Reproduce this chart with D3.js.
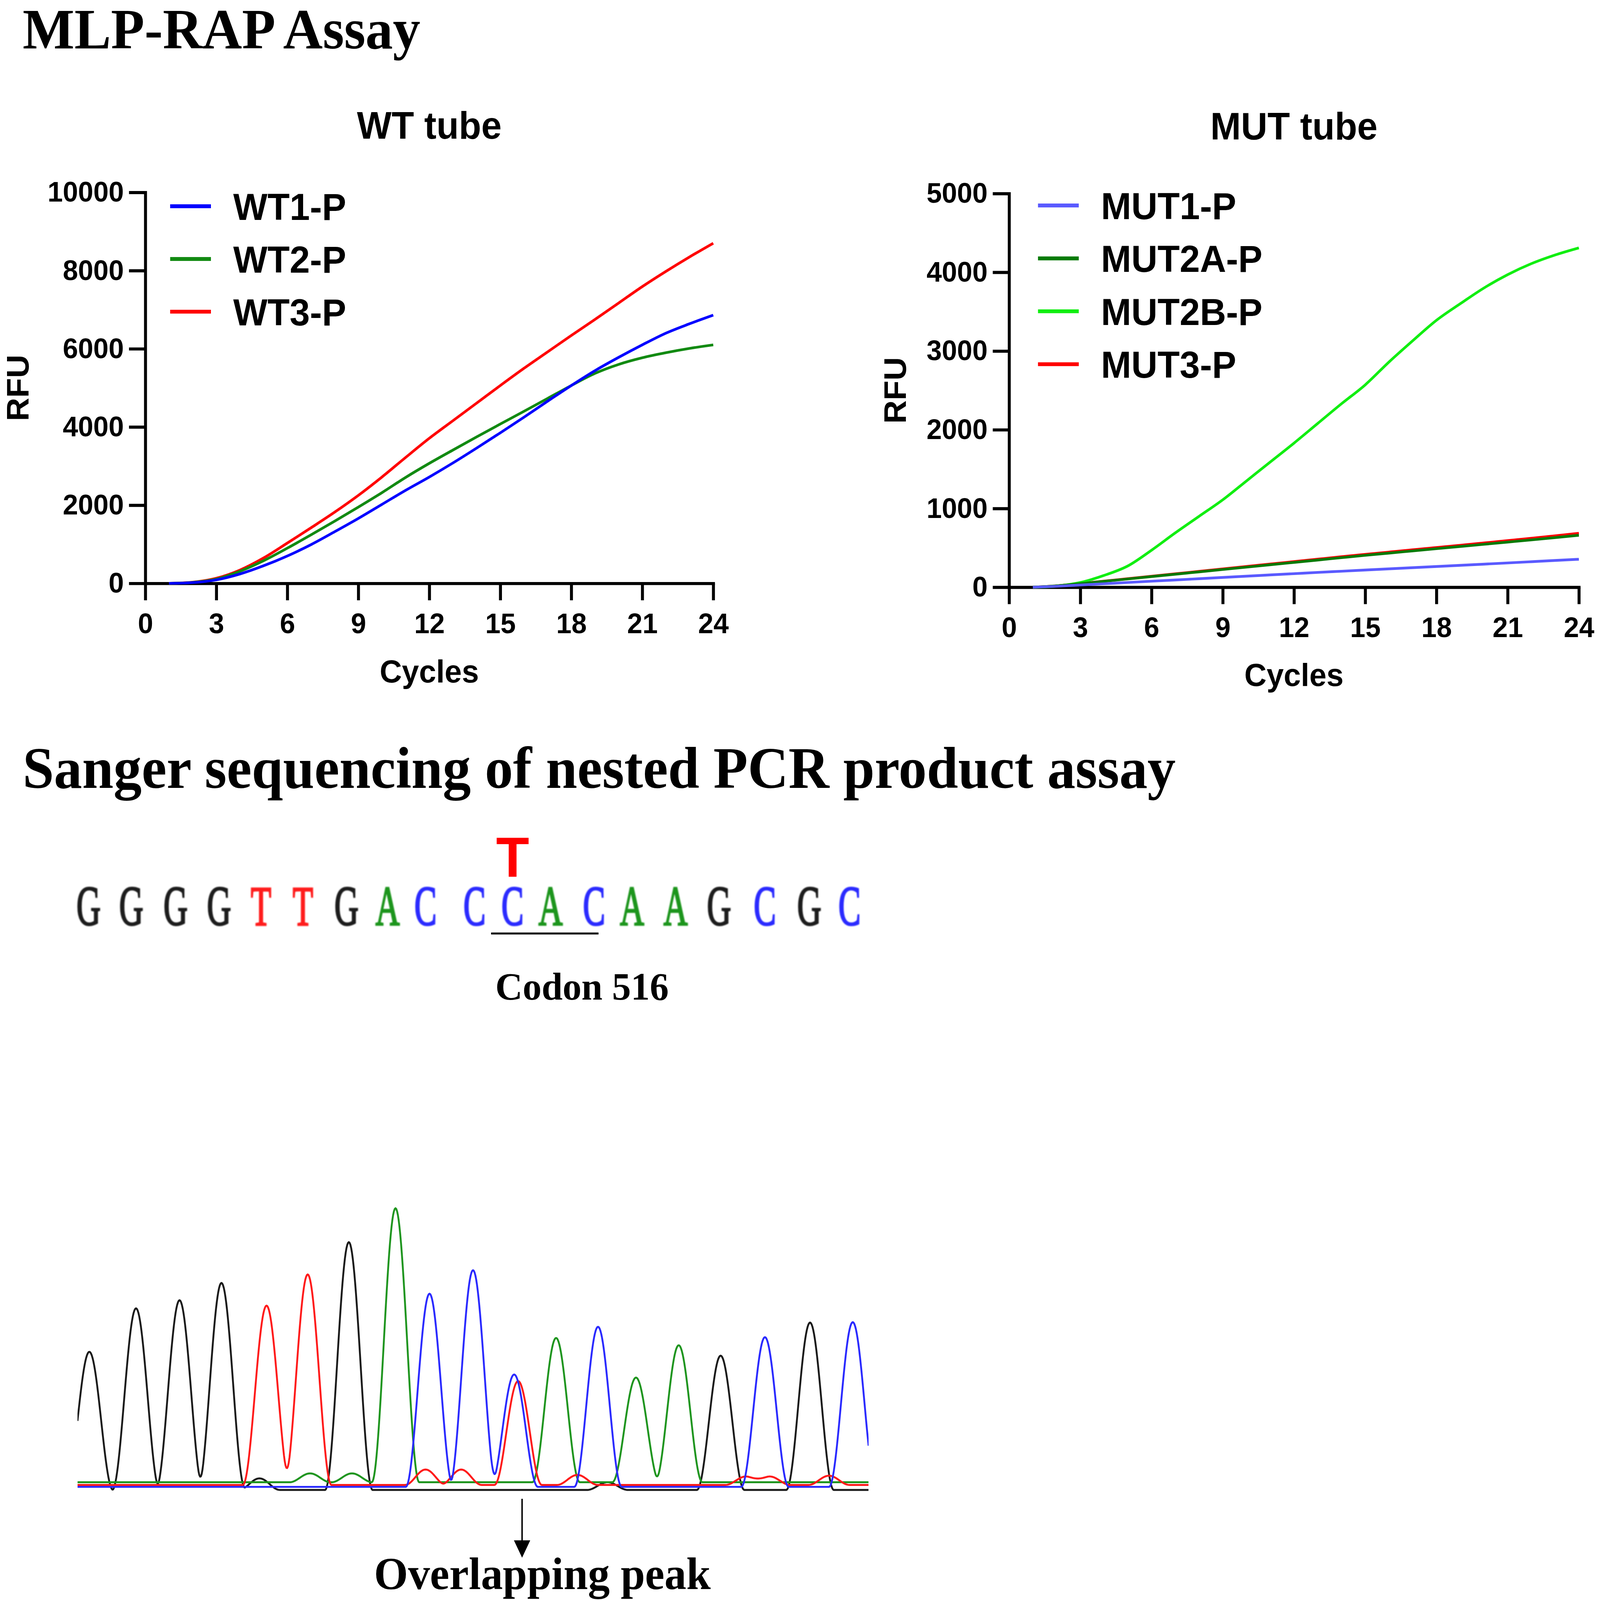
<!DOCTYPE html>
<html>
<head>
<meta charset="utf-8">
<script src="https://cdn.jsdelivr.net/npm/d3@7"></script>
<style>
  html, body { margin: 0; padding: 0; width: 100%; height: 100%; overflow: hidden; background: #fff; }
  #fig { display: block; width: 100vw; height: 100vh; }
  .sans { font-family: "Liberation Sans", Arial, sans-serif; font-weight: bold; }
  .serif { font-family: "Liberation Serif", "Times New Roman", serif; font-weight: bold; }
</style>
</head>
<body>
<svg id="fig"></svg>
<script>
// amplification curves, one value per cycle
var cycles = [1,2,3,4,5,6,7,8,9,10,11,12,13,14,15,16,17,18,19,20,21,22,23,24];
var xTicks = [0,3,6,9,12,15,18,21,24];
var wtTicks = [0,2000,4000,6000,8000,10000];
var mutTicks = [0,1000,2000,3000,4000,5000];

var wtNames = ["WT1-P","WT2-P","WT3-P"];
var wt1 = [0,20,90,240,450,700,990,1320,1660,2020,2380,2720,3080,3460,3850,4250,4660,5060,5440,5780,6100,6400,6640,6860];
var wt2 = [0,25,110,310,580,900,1240,1590,1950,2320,2710,3070,3410,3745,4075,4400,4730,5060,5370,5600,5770,5900,6010,6100];
var wt3 = [0,30,130,340,650,1030,1420,1820,2250,2720,3220,3710,4160,4610,5060,5500,5920,6340,6750,7170,7590,7980,8350,8700];

var mutNames = ["MUT1-P","MUT2A-P","MUT2B-P","MUT3-P"];
var mut1 = [0,12,28,44,60,76,92,108,124,140,156,172,188,203,218,233,248,263,278,293,308,324,340,355];
var mut2a = [0,18,45,75,105,135,165,195,225,255,285,315,345,375,405,433,461,489,517,545,573,601,630,660];
var mut2b = [0,15,60,150,270,470,690,900,1110,1350,1590,1830,2080,2330,2570,2860,3130,3390,3600,3800,3970,4110,4220,4310];
var mut3 = [0,18,46,77,108,139,170,201,232,263,294,325,356,387,417,446,475,504,533,562,592,622,653,685];

// sanger read: base calls and trace peaks [scan, height]
var bases = ["G","G","G","G","T","T","G","A","C","C","C","A","C","A","A","G","C","G","C"];
var baseScan = [14,68,124,179,232,285,340,392,440,502,550,598,653,701,756,811,869,925,976];
var gPeaks = [[15,359],[74,472],[129,493],[182,538],[230,30],[343,644],[670,20],[813,349],[926,435]];
var tPeaks = [[239,466],[291,547],[440,40],[485,40],[557,270],[632,26],[845,22],[875,22],[950,24]];
var aPeaks = [[294,23],[347,23],[402,712],[605,375],[706,272],[760,356]];
var cPeaks = [[445,502],[500,563],[552,292],[658,416],[869,389],[980,428]];
var overlapScan = 562;

var W = 4316, H = 4158;
var svg = d3.select("#fig")
  .attr("viewBox", "0 0 " + W + " " + H)
  .attr("preserveAspectRatio", "none");
svg.append("rect").attr("width", W).attr("height", H).attr("fill", "#fff");

function drawPanel(o) {
  var g = svg.append("g");
  var x = d3.scaleLinear().domain([0, 24]).range([o.x0, o.x1]);
  var y = d3.scaleLinear().domain([0, o.yMax]).range([o.y0, o.y1]);

  var xa = g.append("g")
    .attr("transform", "translate(0," + o.y0 + ")")
    .call(d3.axisBottom(x).tickValues(xTicks).tickSize(44).tickPadding(33).tickSizeOuter(0));
  var ya = g.append("g")
    .attr("transform", "translate(" + o.x0 + ",0)")
    .call(d3.axisLeft(y).tickValues(o.ticks).tickFormat(d3.format("d"))
      .tickSize(44).tickPadding(14).tickSizeOuter(0));
  [xa, ya].forEach(function(a) {
    a.select(".domain").attr("stroke", "#000").attr("stroke-width", 8).attr("stroke-linecap", "square");
    a.selectAll(".tick line").attr("stroke", "#000").attr("stroke-width", 8);
    a.selectAll(".tick text").attr("class", "sans").attr("font-size", 74).attr("fill", "#000");
  });

  var line = d3.line()
    .x(function(d, i) { return x(cycles[i]); })
    .y(function(d) { return y(d); })
    .curve(d3.curveMonotoneX);

  o.order.forEach(function(i) {
    g.append("path").attr("d", line(o.series[i]))
      .attr("fill", "none").attr("stroke", o.colors[i]).attr("stroke-width", 7);
  });

  // legend
  o.names.forEach(function(n, i) {
    var ly = o.legY + i * o.legStep;
    g.append("line").attr("x1", o.legX).attr("x2", o.legX + 110)
      .attr("y1", ly).attr("y2", ly)
      .attr("stroke", o.colors[i]).attr("stroke-width", 10);
    g.append("text").attr("class", "sans").attr("x", o.legX + 170).attr("y", ly)
      .attr("dy", "0.36em").attr("font-size", 98).text(n);
  });

  g.append("text").attr("class", "sans").attr("x", (o.x0 + o.x1) / 2).attr("y", o.titleY)
    .attr("text-anchor", "middle").attr("font-size", 99).text(o.title);
  g.append("text").attr("class", "sans").attr("x", (o.x0 + o.x1) / 2).attr("y", o.y0 + 257)
    .attr("text-anchor", "middle").attr("font-size", 83).text("Cycles");
  g.append("text").attr("class", "sans")
    .attr("transform", "translate(" + o.rfuX + "," + (o.y0 + o.y1) / 2 + ") rotate(-90)")
    .attr("text-anchor", "middle").attr("font-size", 84).text("RFU");
}

drawPanel({
  x0: 392, x1: 1924, y0: 1516, y1: 500, yMax: 10000, ticks: wtTicks,
  series: [wt1, wt2, wt3], names: wtNames,
  colors: ["#0000ff", "#128a12", "#ff0000"], order: [2, 1, 0],
  legX: 459, legY: 536, legStep: 137, title: "WT tube", titleY: 360, rfuX: 77
});

drawPanel({
  x0: 2722, x1: 4259, y0: 1526, y1: 503, yMax: 5000, ticks: mutTicks,
  series: [mut1, mut2a, mut2b, mut3], names: mutNames,
  colors: ["#5a5aff", "#067a06", "#11ee11", "#ff0000"], order: [3, 2, 1, 0],
  legX: 2800, legY: 534, legStep: 137.5, title: "MUT tube", titleY: 362, rfuX: 2444
});

// section headings
svg.append("text").attr("class", "serif").attr("x", 61).attr("y", 126)
  .attr("font-size", 148).text("MLP-RAP Assay");
svg.append("text").attr("class", "serif").attr("x", 61).attr("y", 2048)
  .attr("font-size", 152).text("Sanger sequencing of nested PCR product assay");

// chromatogram
var cx = d3.scaleLinear().domain([0, 1000]).range([209, 2343]);
var cy = d3.scaleLinear().domain([0, 800]).range([3876, 3076]);
var baseColor = { G: "#1a1a1a", T: "#ff1a1a", A: "#1f951f", C: "#2a2aff" };

var defs = svg.append("defs");
defs.append("clipPath").attr("id", "chromClip").append("rect")
  .attr("x", 209).attr("y", 3000).attr("width", 2343 - 209).attr("height", 900);
defs.append("filter").attr("id", "soft").append("feGaussianBlur").attr("stdDeviation", 1.6);

var channels = [
  { b: "G", level: 4, peaks: gPeaks },
  { b: "A", level: 24, peaks: aPeaks },
  { b: "T", level: 17, peaks: tPeaks },
  { b: "C", level: 12, peaks: cPeaks }
];
var scans = d3.range(0, 1001, 1);
var trace = d3.line().x(function(d) { return cx(d[0]); }).y(function(d) { return cy(d[1]); });
var chrom = svg.append("g").attr("clip-path", "url(#chromClip)");
channels.forEach(function(ch) {
  // each peak drawn as a raised-cosine bump around its scan position
  var pts = scans.map(function(s) {
    var v = ch.level;
    ch.peaks.forEach(function(p) {
      var hw = p[1] < 60 ? 26 : 30, d = s - p[0];
      if (Math.abs(d) < hw) {
        var c = Math.cos(Math.PI * d / (2 * hw));
        v += p[1] * c * c;
      }
    });
    return [s, v];
  });
  chrom.append("path").attr("d", trace(pts)).attr("fill", "none")
    .attr("stroke", baseColor[ch.b]).attr("stroke-width", 5).attr("stroke-linejoin", "round");
});

// base calls
var seq = svg.append("g").attr("filter", "url(#soft)");
bases.forEach(function(b, i) {
  seq.append("text")
    .attr("transform", "translate(" + cx(baseScan[i]) + ",2404) scale(0.62,1)")
    .attr("text-anchor", "middle")
    .attr("font-family", "'Liberation Serif', 'Times New Roman', serif")
    .attr("font-size", 146).attr("fill", baseColor[b])
    .attr("stroke", baseColor[b]).attr("stroke-width", 4)
    .text(b);
});

// mutation mark and codon
svg.append("text").attr("class", "sans").attr("x", cx(baseScan[10])).attr("y", 2279)
  .attr("text-anchor", "middle").attr("font-size", 146).attr("fill", "#ff0000").text("T");
svg.append("line")
  .attr("x1", cx(baseScan[10]) - 58).attr("x2", cx(baseScan[12]) + 12)
  .attr("y1", 2426).attr("y2", 2426).attr("stroke", "#000").attr("stroke-width", 5);
svg.append("text").attr("class", "serif").attr("x", 1570).attr("y", 2598)
  .attr("text-anchor", "middle").attr("font-size", 102).text("Codon 516");

// arrow to the overlapping peak
var ax = cx(overlapScan);
svg.append("line").attr("x1", ax).attr("x2", ax).attr("y1", 3895).attr("y2", 4008)
  .attr("stroke", "#000").attr("stroke-width", 4);
svg.append("path")
  .attr("d", "M" + (ax - 22) + ",4003L" + (ax + 22) + ",4003L" + ax + ",4048Z")
  .attr("fill", "#000");
svg.append("text").attr("class", "serif").attr("x", 1463).attr("y", 4130)
  .attr("text-anchor", "middle").attr("font-size", 118).text("Overlapping peak");
</script>
</body>
</html>
